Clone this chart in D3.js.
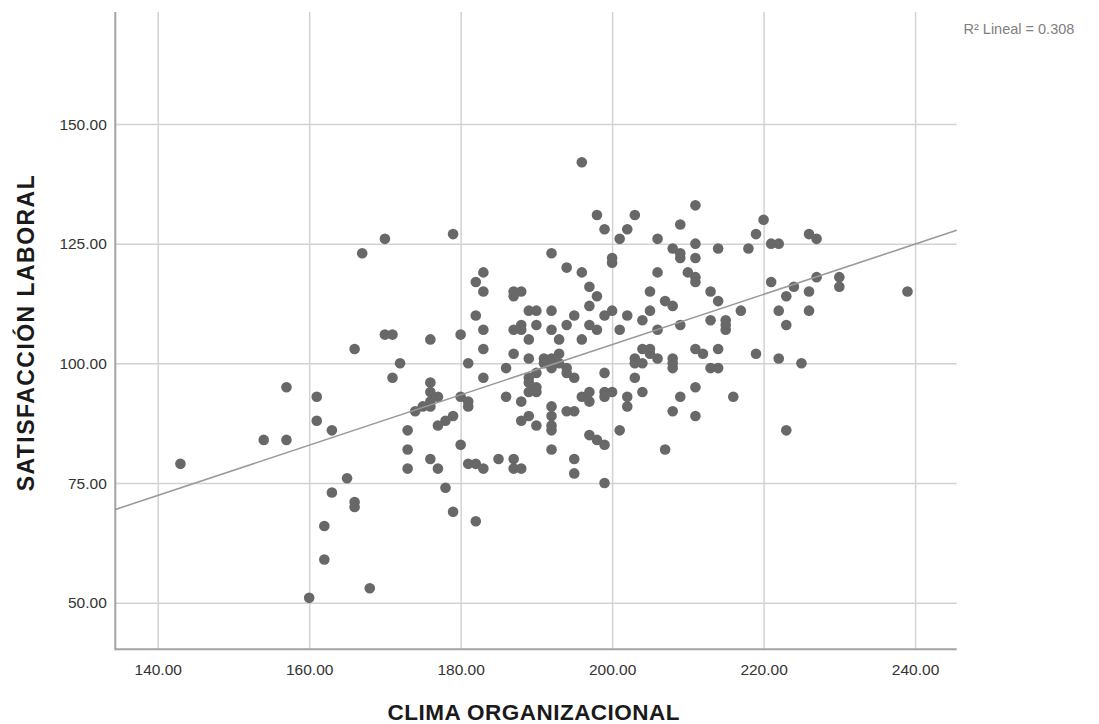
<!DOCTYPE html>
<html>
<head>
<meta charset="utf-8">
<script src="https://cdn.jsdelivr.net/npm/d3@7"></script>
<style>
  html, body { margin: 0; padding: 0; background: #fff; }
  svg { display: block; }
  text { font-family: "Liberation Sans", Arial, sans-serif; }
</style>
</head>
<body>
<svg id="chart" width="1099" height="724"></svg>
<script>
// ---- Data ----
const climaOrganizacional = [
  170,167,170,171,166,172,171,157,161,174,161,163,154,157,173,173,173,143,165,163,166,166,162,162,168,160,
  196,198,203,199,202,201,179,206,209,192,200,200,194,196,206,208,209,183,182,183,187,188,187,197,198,205,197,207,208,189,190,192,182,195,199,200,202,205,204,183,187,188,188,190,194,197,198,201,206,180,176,192,
  189,193,196,183,187,189,193,181,186,191,192,192,191,192,193,189,190,189,190,189,190,194,194,195,199,203,204,205,205,203,204,206,208,208,203,204,209,208,202,202,199,200,199,196,197,197,192,194,195,192,192,192,189,188,190,188,186,180,181,181,176,177,176,176,175,176,177,178,179,176,177,180,181,182,183,185,187,187,188,192,195,195,197,198,199,201,199,207,178,179,182,183,
  211,211,209,211,214,218,220,219,221,222,226,227,210,211,211,213,214,221,224,223,227,226,230,230,239,209,213,215,215,215,217,222,223,226,208,211,212,214,213,214,219,222,225,211,211,216,223
];
const satisfaccionLaboral = [
  126,123,106,106,103,100,97,95,93,90,88,86,84,84,86,82,78,79,76,73,71,70,66,59,53,51,
  142,131,131,128,128,126,127,126,129,123,122,121,120,119,119,124,123,119,117,115,115,115,114,116,114,115,112,113,112,111,111,111,110,110,110,111,110,111,109,107,107,108,107,108,108,108,107,107,107,106,105,107,
  105,105,105,103,102,101,102,100,99,101,101,100,100,99,100,97,98,96,95,94,94,99,98,97,98,101,103,103,102,100,100,101,101,99,97,94,93,90,93,91,94,94,93,93,94,92,91,90,90,89,87,86,89,88,87,92,93,93,92,91,96,93,94,92,91,91,87,88,89,80,78,83,79,79,78,80,80,78,78,82,80,77,85,84,83,86,75,82,74,69,67,97,
  133,125,122,122,124,124,130,127,125,125,127,126,119,118,117,115,113,117,116,114,118,115,118,116,115,108,109,109,108,107,111,111,108,111,100,103,102,103,99,99,102,101,100,95,89,93,86
];
const xTicks = [140, 160, 180, 200, 220, 240];
const yTicks = [50, 75, 100, 125, 150];
const xDomain = [134.4, 245.5];
const yDomain = [40.25, 173.4];
// Linear fit as shown in the picture
const fitSlope = 0.525;
const fitIntercept = -1.1;
const r2Label = "R² Lineal = 0.308";
const xTitle = "CLIMA ORGANIZACIONAL";
const yTitle = "SATISFACCIÓN LABORAL";

(function () {
  const svg = d3.select("#chart");
  const pLeft = 115.3, pRight = 956.7, pTop = 12, pBottom = 649.3;

  const x = d3.scaleLinear().domain(xDomain).range([pLeft, pRight]);
  const y = d3.scaleLinear().domain(yDomain).range([pBottom, pTop]);

  const gridColor = "#d2d2d2";
  const labelColor = "#333";

  // Vertical grid + x tick labels
  const gx = svg.append("g")
    .attr("transform", `translate(0,${pBottom})`)
    .call(d3.axisBottom(x).tickValues(xTicks).tickFormat(d3.format(".2f"))
          .tickSize(-(pBottom - pTop)).tickPadding(14));
  gx.select(".domain").remove();
  gx.selectAll(".tick line").attr("stroke", gridColor).attr("stroke-width", 1.5);
  gx.selectAll(".tick text")
    .attr("fill", labelColor).attr("font-size", 15.5)
    .attr("y", 0).attr("dy", 25.5);

  // Horizontal grid + y tick labels
  const gy = svg.append("g")
    .attr("transform", `translate(${pLeft},0)`)
    .call(d3.axisLeft(y).tickValues(yTicks).tickFormat(d3.format(".2f"))
          .tickSize(-(pRight - pLeft)).tickPadding(8.5));
  gy.select(".domain").remove();
  gy.selectAll(".tick line").attr("stroke", gridColor).attr("stroke-width", 1.5);
  gy.selectAll(".tick text")
    .attr("fill", labelColor).attr("font-size", 15.5).attr("dy", "0.34em");

  // Axis lines
  svg.append("line").attr("x1", pLeft).attr("x2", pLeft).attr("y1", pTop).attr("y2", pBottom + 1)
    .attr("stroke", "#a3a3a3").attr("stroke-width", 2);
  svg.append("line").attr("x1", pLeft).attr("x2", pRight).attr("y1", pBottom).attr("y2", pBottom)
    .attr("stroke", "#a3a3a3").attr("stroke-width", 2);

  // Points
  const pts = climaOrganizacional.map((v, i) => [v, satisfaccionLaboral[i]]);
  svg.append("g").selectAll("circle").data(pts).join("circle")
    .attr("cx", d => x(d[0])).attr("cy", d => y(d[1])).attr("r", 5.3)
    .attr("fill", "#686868");

  // Fit line
  const fit = v => fitIntercept + fitSlope * v;
  svg.append("line")
    .attr("x1", x(xDomain[0])).attr("y1", y(fit(xDomain[0])))
    .attr("x2", x(xDomain[1])).attr("y2", y(fit(xDomain[1])))
    .attr("stroke", "#9a9a9a").attr("stroke-width", 1.6);

  // R² label
  svg.append("text").attr("x", 963.5).attr("y", 33.5)
    .attr("font-size", 14.5).attr("fill", "#808080").text(r2Label);

  // Axis titles
  svg.append("text").attr("x", 533.5).attr("y", 719.5).attr("text-anchor", "middle")
    .attr("font-size", 22.5).attr("font-weight", "bold").attr("fill", "#1a1a1a")
    .attr("textLength", 292).attr("lengthAdjust", "spacing").text(xTitle);
  svg.append("text").attr("transform", "translate(33.5,333.3) rotate(-90)")
    .attr("text-anchor", "middle").attr("font-size", 23).attr("font-weight", "bold")
    .attr("fill", "#1a1a1a").attr("textLength", 316).attr("lengthAdjust", "spacing")
    .text(yTitle);
})();
</script>
</body>
</html>
